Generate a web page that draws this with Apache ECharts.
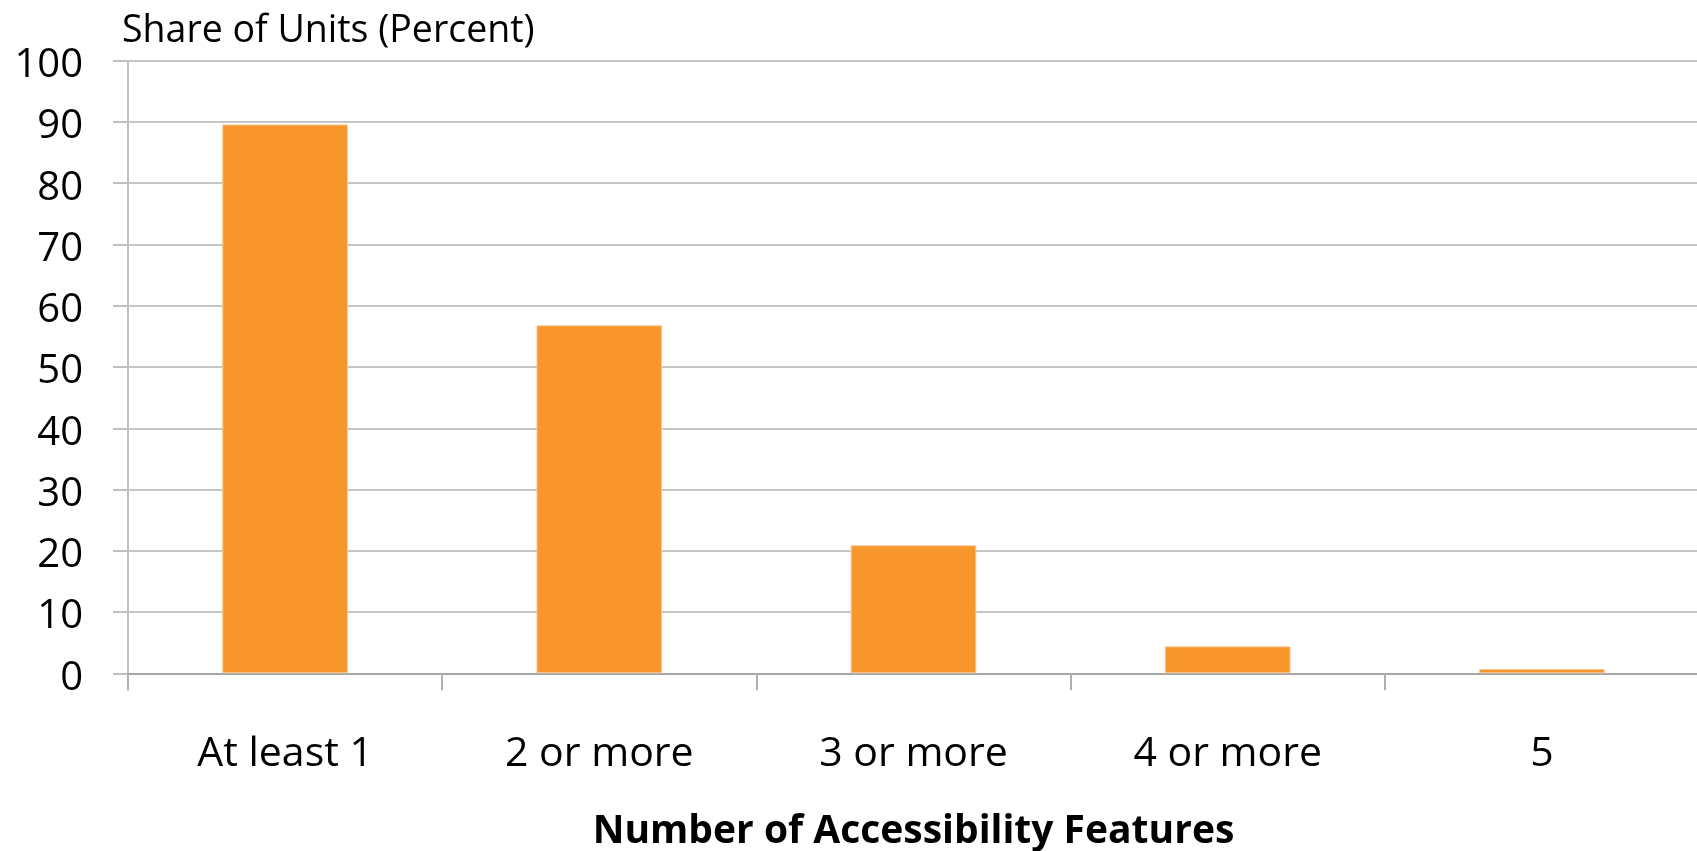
<!DOCTYPE html>
<html>
<head>
<meta charset="utf-8">
<title>Share of Units by Number of Accessibility Features</title>
<script src="https://cdn.jsdelivr.net/npm/echarts@6/dist/echarts.min.js"></script>
<style>
  html, body { margin: 0; padding: 0; background: #ffffff; }
  #chart { width: 1697px; height: 851px; }
</style>
</head>
<body>
<div id="chart"></div>
<script>
// Number of accessibility features present in the unit
const categories = ['At least 1', '2 or more', '3 or more', '4 or more', '5'];
// Share of housing units (percent)
const shareValues = [89.6, 56.8, 20.9, 4.4, 0.7];
// Value axis ticks
const yTicks = [0, 10, 20, 30, 40, 50, 60, 70, 80, 90, 100];

const FONT = '"Open Sans", "Liberation Sans", sans-serif';
const chart = echarts.init(document.getElementById('chart'), null, { renderer: 'canvas' });

chart.setOption({
  animation: false,
  backgroundColor: '#ffffff',
  grid: {
    left: 128, top: 60.7, width: 1571, height: 612.6,
    containLabel: false, outerBoundsMode: 'none'
  },
  xAxis: {
    type: 'category',
    data: categories,
    name: 'Number of Accessibility Features',
    nameLocation: 'middle',
    nameGap: 159,
    nameTextStyle: {
      fontFamily: FONT, fontSize: 39, fontWeight: 'bold', color: '#000000',
      verticalAlign: 'middle'
    },
    axisLine: { show: true, lineStyle: { color: '#a6a6a6', width: 2 } },
    axisTick: { show: true, length: 17, lineStyle: { color: '#b0b0b0', width: 2 } },
    axisLabel: {
      fontFamily: FONT, fontSize: 41, color: '#000000', margin: 61,
      lineHeight: 41
    },
    splitLine: { show: false }
  },
  yAxis: {
    type: 'value',
    min: yTicks[0],
    max: yTicks[yTicks.length - 1],
    interval: yTicks[1] - yTicks[0],
    name: 'Share of Units (Percent)',
    nameLocation: 'end',
    nameGap: 29,
    nameTextStyle: {
      fontFamily: FONT, fontSize: 37.5, color: '#000000',
      align: 'left', verticalAlign: 'middle', padding: [0, 0, 0, -6]
    },
    axisLine: { show: true, lineStyle: { color: '#c0c0c0', width: 2 } },
    axisTick: { show: true, inside: false, length: 15, lineStyle: { color: '#c0c0c0', width: 2 } },
    // tick numbers sit a few pixels below their gridlines
    axisLabel: {
      fontFamily: FONT, fontSize: 40, color: '#000000', margin: 45,
      verticalAlign: 'top', lineHeight: 10
    },
    splitLine: { show: true, lineStyle: { color: '#c6c6c6', width: 2 } }
  },
  series: [{
    type: 'bar',
    data: shareValues,
    barCategoryGap: '60%',
    itemStyle: { color: '#F7972B', borderColor: '#F5C898', borderWidth: 1 }
  }]
});
</script>
</body>
</html>
